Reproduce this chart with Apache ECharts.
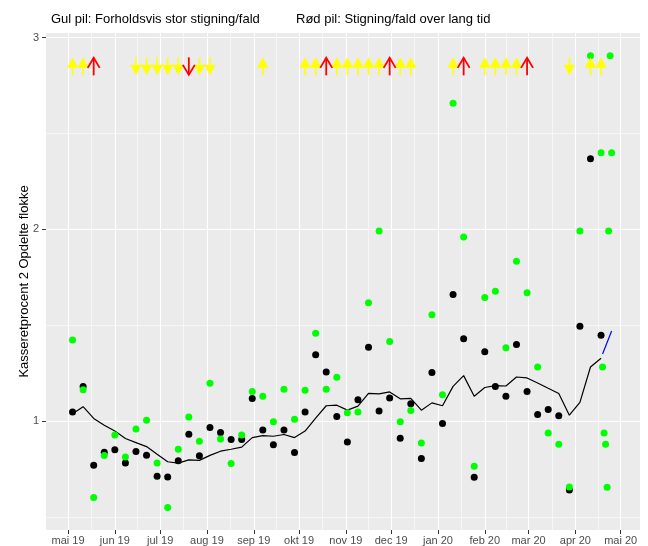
<!DOCTYPE html>
<html>
<head>
<meta charset="utf-8">
<script src="https://cdn.jsdelivr.net/npm/echarts@6/dist/echarts.min.js"></script>
<style>
  html, body { margin: 0; padding: 0; background: #fff; }
  #chart { width: 648px; height: 546px; }
</style>
</head>
<body>
<div id="chart"></div>
<script>
// weekly observation dates
var weeks = ['2019-05-04','2019-05-11','2019-05-18','2019-05-25','2019-06-01','2019-06-08','2019-06-15','2019-06-22',
  '2019-06-29','2019-07-06','2019-07-13','2019-07-20','2019-07-27','2019-08-03','2019-08-10','2019-08-17',
  '2019-08-24','2019-08-31','2019-09-07','2019-09-14','2019-09-21','2019-09-28','2019-10-05','2019-10-12',
  '2019-10-19','2019-10-26','2019-11-02','2019-11-09','2019-11-16','2019-11-23','2019-11-30','2019-12-07',
  '2019-12-14','2019-12-21','2019-12-28','2020-01-04','2020-01-11','2020-01-18','2020-01-25','2020-02-01',
  '2020-02-08','2020-02-15','2020-02-22','2020-02-29','2020-03-07','2020-03-14','2020-03-21','2020-03-28',
  '2020-04-04','2020-04-11','2020-04-18','2020-04-25'];

var blackValues = [1.047,1.181,0.770,0.838,0.850,0.782,0.841,0.822,0.712,0.708,0.793,0.931,0.819,0.966,0.941,0.904,
  0.904,1.118,0.953,0.876,0.953,0.836,1.047,1.346,1.256,1.024,0.891,1.111,1.385,1.052,1.121,0.910,
  1.090,0.805,1.253,0.988,1.660,1.430,0.707,1.362,1.180,1.130,1.400,1.154,1.035,1.061,1.028,0.641,
  1.494,2.368,1.448];

var avgValues = [1.038,1.075,1.014,0.978,0.948,0.909,0.888,0.867,0.827,0.788,0.781,0.798,0.795,0.821,0.843,0.853,
  0.864,0.914,0.924,0.921,0.930,0.914,0.948,1.015,1.080,1.083,1.057,1.078,1.145,1.142,1.152,1.116,
  1.118,1.057,1.095,1.080,1.181,1.237,1.130,1.175,1.185,1.183,1.230,1.225,1.199,1.171,1.144,1.031,
  1.098,1.282,1.328];

var greenValues = [1.423,1.164,0.601,0.821,0.927,0.813,0.959,1.005,0.782,0.549,0.853,1.021,0.895,1.197,0.907,0.779,
  0.927,1.154,1.130,0.997,1.166,1.009,1.161,1.458,1.166,1.228,1.044,1.047,1.617,1.992,1.415,0.997,
  1.055,0.886,1.554,1.137,2.658,1.960,0.764,1.644,1.677,1.383,1.833,1.669,1.282,0.938,0.879,0.656,
  1.992,2.905];

var lateGreenDates = ['2020-04-18','2020-04-19','2020-04-20','2020-04-21','2020-04-22','2020-04-23','2020-04-24','2020-04-25'];
var lateGreenValues = [2.399,1.282,0.938,0.879,0.655,1.992,2.905,2.399];

var trendDates = ['2020-04-19','2020-04-25'];
var trendValues = [1.35,1.47];

// arrows along the top
var arrowLevel = 2.85;
var yellowUpDates = ['2019-05-04','2019-05-11','2019-09-07','2019-10-05','2019-10-12','2019-10-26','2019-11-02',
  '2019-11-09','2019-11-16','2019-11-23','2019-12-07','2019-12-14','2020-01-11','2020-02-01','2020-02-08',
  '2020-02-15','2020-02-22','2020-04-11','2020-04-18'];
var yellowDownDates = ['2019-06-15','2019-06-22','2019-06-29','2019-07-06','2019-07-13','2019-07-27','2019-08-03','2020-03-28'];
var redUpDates = ['2019-05-18','2019-10-19','2019-11-30','2020-01-18','2020-02-29'];
var redDownDates = ['2019-07-20'];

// axis ticks
var monthTicks = ['2019-05-01','2019-06-01','2019-07-01','2019-08-01','2019-09-01','2019-10-01','2019-11-01',
  '2019-12-01','2020-01-01','2020-02-01','2020-03-01','2020-04-01','2020-05-01'];
var monthLabels = ['mai 19','jun 19','jul 19','aug 19','sep 19','okt 19','nov 19','dec 19','jan 20','feb 20','mar 20','apr 20','mai 20'];
var yMajor = [1, 2, 3];
var yMinor = [0.5, 1.5, 2.5];

function ts(s) {
  var p = s.split('-');
  return new Date(+p[0], +p[1] - 1, +p[2]).getTime();
}
function pairs(dates, values) {
  return values.map(function (v, i) { return [ts(dates[i]), v]; });
}

var monthTs = monthTicks.map(ts);
var minorX = [];
for (var i = 0; i < monthTs.length - 1; i++) minorX.push((monthTs[i] + monthTs[i + 1]) / 2);

var gridLines = [];
yMajor.forEach(function (v) { gridLines.push({ yAxis: v, lineStyle: { width: 1.1 } }); });
yMinor.forEach(function (v) { gridLines.push({ yAxis: v, lineStyle: { width: 0.55 } }); });
monthTs.forEach(function (v) { gridLines.push({ xAxis: v, lineStyle: { width: 1.1 } }); });
minorX.forEach(function (v) { gridLines.push({ xAxis: v, lineStyle: { width: 0.55 } }); });

function arrowSeries(dates, up, kind) {
  return {
    type: 'custom',
    z: 12,
    silent: true,
    data: dates.map(function (d) { return [ts(d), arrowLevel]; }),
    renderItem: function (params, api) {
      var p = api.coord([api.value(0), api.value(1)]);
      var x = p[0], y = p[1];
      var s = up ? -1 : 1;
      if (kind === 'yellow') {
        return {
          type: 'group',
          children: [
            { type: 'rect', shape: { x: x - 0.8, y: Math.min(y - 9 * s, y - 1.5 * s), width: 1.6, height: 7.5 },
              style: { fill: '#FFFF00' } },
            { type: 'polygon', shape: { points: [[x - 5.6, y - 1.5 * s], [x + 5.6, y - 1.5 * s], [x, y + 9 * s]] },
              style: { fill: '#FFFF00' } }
          ]
        };
      }
      return {
        type: 'group',
        children: [
          { type: 'line', shape: { x1: x, y1: y - 9 * s, x2: x, y2: y + 8.5 * s },
            style: { stroke: '#FF0000', lineWidth: 1.8 } },
          { type: 'polyline', shape: { points: [[x - 6, y - 1.5 * s], [x, y + 8.5 * s], [x + 6, y - 1.5 * s]] },
            style: { stroke: '#FF0000', lineWidth: 1.8, fill: null } }
        ]
      };
    }
  };
}

var chart = echarts.init(document.getElementById('chart'));
var fontFamily = '"Liberation Sans", Arial, sans-serif';

chart.setOption({
  animation: false,
  textStyle: { fontFamily: fontFamily },
  title: [
    { text: 'Gul pil: Forholdsvis stor stigning/fald', left: 46, top: 8,
      textStyle: { fontSize: 13, fontWeight: 'normal', color: '#000', fontFamily: fontFamily } },
    { text: 'Rød pil: Stigning/fald over lang tid', left: 291, top: 8,
      textStyle: { fontSize: 13, fontWeight: 'normal', color: '#000', fontFamily: fontFamily } }
  ],
  grid: {
    left: 46, right: 8, top: 33, bottom: 15,
    show: true, backgroundColor: '#EBEBEB', borderWidth: 0
  },
  xAxis: {
    type: 'value',
    min: new Date(2019, 3, 16, 10).getTime(),
    max: new Date(2020, 4, 13, 19).getTime(),
    axisLine: { show: false },
    splitLine: { show: false },
    axisTick: { show: true, customValues: monthTs, length: 4, lineStyle: { color: '#333333', width: 1 } },
    axisLabel: {
      customValues: monthTs,
      color: '#4D4D4D', fontSize: 11, margin: 5, fontFamily: fontFamily,
      formatter: function (v) {
        var k = monthTs.indexOf(v);
        return k >= 0 ? monthLabels[k] : '';
      }
    }
  },
  yAxis: {
    type: 'value',
    min: 0.432,
    max: 3.024,
    name: 'Kasseretprocent 2 Opdelte flokke',
    nameLocation: 'middle',
    nameGap: 15,
    nameMoveOverlap: false,
    nameTextStyle: { fontSize: 13, color: '#000', fontFamily: fontFamily },
    axisLine: { show: false },
    splitLine: { show: false },
    axisTick: { show: true, customValues: yMajor, length: 4, lineStyle: { color: '#333333', width: 1 } },
    axisLabel: { customValues: yMajor, color: '#4D4D4D', fontSize: 11, margin: 7, fontFamily: fontFamily }
  },
  series: [
    {
      type: 'line',
      data: [],
      silent: true,
      z: 0,
      markLine: {
        silent: true,
        z: 0,
        symbol: ['none', 'none'],
        label: { show: false },
        lineStyle: { color: '#FFFFFF', type: 'solid' },
        data: gridLines
      }
    },
    {
      type: 'line',
      z: 8,
      data: pairs(weeks, avgValues),
      symbol: 'none',
      lineStyle: { color: '#000000', width: 1.2 }
    },
    {
      type: 'line',
      z: 8,
      data: pairs(trendDates, trendValues),
      symbol: 'none',
      lineStyle: { color: '#0000FF', width: 1.2 }
    },
    {
      type: 'scatter',
      z: 10,
      data: pairs(weeks, blackValues),
      symbolSize: 7,
      itemStyle: { color: '#000000', opacity: 1 }
    },
    {
      type: 'scatter',
      z: 11,
      data: pairs(weeks, greenValues).concat(pairs(lateGreenDates, lateGreenValues)),
      symbolSize: 7,
      itemStyle: { color: '#00FF00', opacity: 1 }
    },
    arrowSeries(yellowUpDates, true, 'yellow'),
    arrowSeries(yellowDownDates, false, 'yellow'),
    arrowSeries(redUpDates, true, 'red'),
    arrowSeries(redDownDates, false, 'red')
  ]
});
</script>
</body>
</html>
